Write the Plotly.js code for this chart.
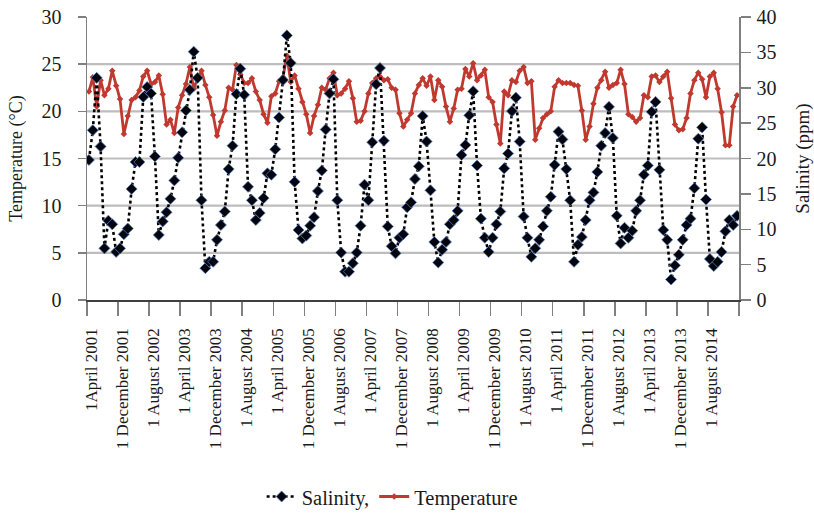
<!DOCTYPE html>
<html>
<head>
<meta charset="utf-8">
<script src="https://cdn.plot.ly/plotly-3.0.1.min.js"></script>
<style>html,body{margin:0;padding:0;background:#fff;}#chart{width:814px;height:513px;}</style>
</head>
<body>
<div id="chart"></div>
<script>
// Monthly series, April 2001 onward
const salinity = [
  19.8, 24.0, 31.4, 21.7, 7.3, 11.2, 10.7, 6.8, 7.3, 9.3,
  10.1, 15.7, 19.5, 19.5, 28.7, 30.1, 29.2, 20.3, 9.2, 11.1,
  12.4, 14.3, 16.9, 20.1, 23.7, 26.8, 29.7, 35.1, 31.4, 14.1,
  4.5, 5.4, 5.4, 8.5, 10.6, 12.5, 18.5, 21.8, 29.1, 32.7,
  29.0, 16.0, 14.1, 11.3, 12.3, 14.4, 17.9, 17.7, 21.3, 25.8,
  31.1, 37.4, 33.5, 16.7, 9.9, 8.7, 9.1, 10.5, 11.7, 15.4,
  18.3, 24.1, 29.2, 31.2, 14.1, 6.7, 4.0, 4.0, 5.2, 6.7,
  10.5, 16.3, 14.1, 22.3, 30.5, 32.8, 22.5, 10.4, 7.6, 6.6,
  8.8, 9.3, 13.1, 13.8, 17.1, 18.9, 26.0, 22.4, 15.5, 8.2,
  5.3, 7.1, 8.2, 10.7, 11.3, 12.6, 20.5, 21.9, 26.1, 29.5,
  19.0, 11.5, 8.8, 6.8, 8.8, 10.7, 12.5, 18.6, 20.7, 26.7,
  28.6, 22.4, 11.8, 8.8, 6.1, 7.3, 8.5, 10.4, 12.6, 14.6,
  19.1, 23.8, 22.7, 18.5, 14.1, 5.4, 7.8, 8.9, 11.3, 14.1,
  15.2, 18.1, 21.8, 23.6, 27.3, 22.9, 11.9, 8.0, 10.2, 8.8,
  9.8, 12.6, 14.1, 17.7, 19.0, 26.6, 28.0, 18.4, 9.9, 8.5,
  2.9, 4.9, 6.4, 8.5, 10.6, 11.5, 15.8, 22.8, 24.4, 14.2,
  5.8, 4.8, 5.4, 6.8, 9.7, 11.3, 10.6, 11.9
];
const temperature = [
  22.1, 23.6, 20.5, 23.3, 21.7, 22.4, 24.3, 22.7, 21.3, 17.6,
  19.5, 21.2, 21.5, 22.2, 23.7, 24.3, 22.9, 23.1, 23.8, 21.8,
  18.6, 19.1, 17.7, 20.4, 21.7, 22.9, 24.7, 22.4, 23.5, 24.3,
  22.8, 21.5, 19.6, 17.4, 18.9, 20.1, 22.5, 22.3, 24.9, 23.9,
  23.0, 23.0, 23.5, 22.1, 21.2, 19.7, 18.8, 21.6, 21.9, 23.2,
  23.6, 25.9, 23.1, 23.8, 22.4, 21.0, 19.7, 17.7, 19.5, 20.7,
  22.5, 22.3, 23.5, 24.1, 21.7, 21.9, 22.4, 23.2, 21.4, 18.9,
  19.0, 20.0, 21.9, 23.0, 23.5, 23.7, 23.3, 23.4, 22.5, 22.3,
  19.8, 18.4, 19.1, 19.8, 21.9, 22.8, 23.5, 22.7, 23.7, 21.2,
  23.3, 22.6, 20.5, 18.9, 20.3, 22.3, 22.4, 24.5, 23.7, 25.1,
  23.3, 23.8, 24.4, 21.5, 21.0, 18.6, 16.6, 22.1, 21.7, 23.3,
  23.1, 24.3, 24.7, 23.0, 23.2, 17.0, 18.2, 19.3, 19.7, 20.0,
  22.6, 23.3, 23.0, 23.0, 23.0, 22.8, 22.7, 20.1, 17.0, 18.4,
  20.8, 22.5, 23.3, 24.2, 22.5, 22.8, 23.0, 24.4, 22.9, 19.7,
  19.4, 18.9, 19.3, 21.7, 21.5, 23.7, 23.8, 23.1, 23.7, 24.2,
  21.4, 18.6, 18.0, 18.1, 19.3, 21.9, 23.3, 24.1, 23.4, 21.5,
  23.7, 24.1, 22.4, 19.9, 16.4, 16.4, 20.5, 21.7
];
// One tick label every 8 months
const tickLabels = [
  "1April 2001", "1 December 2001", "1 August 2002", "1 April 2003",
  "1 December 2003", "1 August 2004", "1 April 2005", "1 December 2005",
  "1 August 2006", "1 April 2007", "1 December 2007", "1 August 2008",
  "1 April 2009", "1 December 2009", "1 August 2010", "1 April 2011",
  "1 December 2011", "1 August 2012", "1 April 2013", "1 December 2013",
  "1 August 2014"
];
const tickStep = 8;
const leftTicks = [0, 5, 10, 15, 20, 25, 30];
const rightTicks = [0, 5, 10, 15, 20, 25, 30, 35, 40];
const gridValues = [5, 10, 15, 20, 25];

const n = salinity.length;
const xIdx = salinity.map((_, i) => i);
const tickVals = tickLabels.map((_, k) => k * tickStep - 0.5).concat([n - 0.5]);
const tickText = tickLabels.concat([""]);

const FONT = "Liberation Serif, Times New Roman, serif";
const TXT = "#1a1a1a";

const traces = [
  {
    x: xIdx, y: salinity, yaxis: "y2", name: "Salinity,",
    type: "scatter", mode: "lines+markers",
    line: {color: "#000000", width: 2.6, dash: "dot"},
    marker: {symbol: "diamond", size: 8.5, color: "#05050f",
             line: {color: "rgba(90,130,190,0.75)", width: 1}}
  },
  {
    x: xIdx, y: temperature, yaxis: "y", name: "Temperature",
    type: "scatter", mode: "lines+markers",
    line: {color: "#c0392f", width: 2.8},
    marker: {symbol: "diamond", size: 5, color: "#c0392f"}
  }
];

const layout = {
  width: 814, height: 513,
  margin: {l: 87, r: 75, t: 17, b: 213, autoexpand: false},
  paper_bgcolor: "#ffffff", plot_bgcolor: "#ffffff",
  font: {family: FONT, size: 18, color: TXT},
  showlegend: true,
  legend: {orientation: "h", x: 0.468, xanchor: "center", y: -0.695, yanchor: "middle",
           font: {family: FONT, size: 20.5, color: TXT}, bgcolor: "rgba(0,0,0,0)"},
  xaxis: {
    range: [-0.5, n - 0.5], showgrid: false, zeroline: false, automargin: false,
    showline: true, linecolor: "#404040", linewidth: 1.5,
    tickmode: "array", tickvals: tickVals, ticktext: tickText,
    ticks: "outside", ticklen: 14, tickcolor: "#808080", tickwidth: 1.5,
    tickangle: -90, ticklabelshift: 4, ticklabelstandoff: 6,
    tickfont: {family: FONT, size: 17, color: TXT}
  },
  yaxis: {
    range: [0, 30], tickmode: "array", tickvals: leftTicks, automargin: false,
    showgrid: false, zeroline: false,
    showline: true, linecolor: "#808080", linewidth: 1.5,
    ticks: "outside", ticklen: 8, tickcolor: "#808080", tickwidth: 1.5,
    ticklabelstandoff: 12,
    tickfont: {family: FONT, size: 20, color: TXT},
    title: {text: "Temperature (°C)", font: {family: FONT, size: 18, color: TXT}, standoff: 14}
  },
  yaxis2: {
    range: [0, 40], overlaying: "y", side: "right", automargin: false,
    tickmode: "array", tickvals: rightTicks,
    showgrid: false, zeroline: false,
    showline: true, linecolor: "#808080", linewidth: 1.5,
    ticks: "outside", ticklen: 10, tickcolor: "#808080", tickwidth: 1.5,
    ticklabelstandoff: 2,
    tickfont: {family: FONT, size: 20, color: TXT},
    title: {text: "Salinity (ppm)", font: {family: FONT, size: 19, color: TXT}, standoff: 22}
  },
  shapes: gridValues.map(v => ({
    type: "line", xref: "paper", x0: 0, x1: 1, yref: "y", y0: v, y1: v,
    layer: "below", line: {color: "#bdbdbd", width: 2.2}
  }))
};

Plotly.newPlot("chart", traces, layout, {displayModeBar: false, staticPlot: true});
</script>
</body>
</html>
